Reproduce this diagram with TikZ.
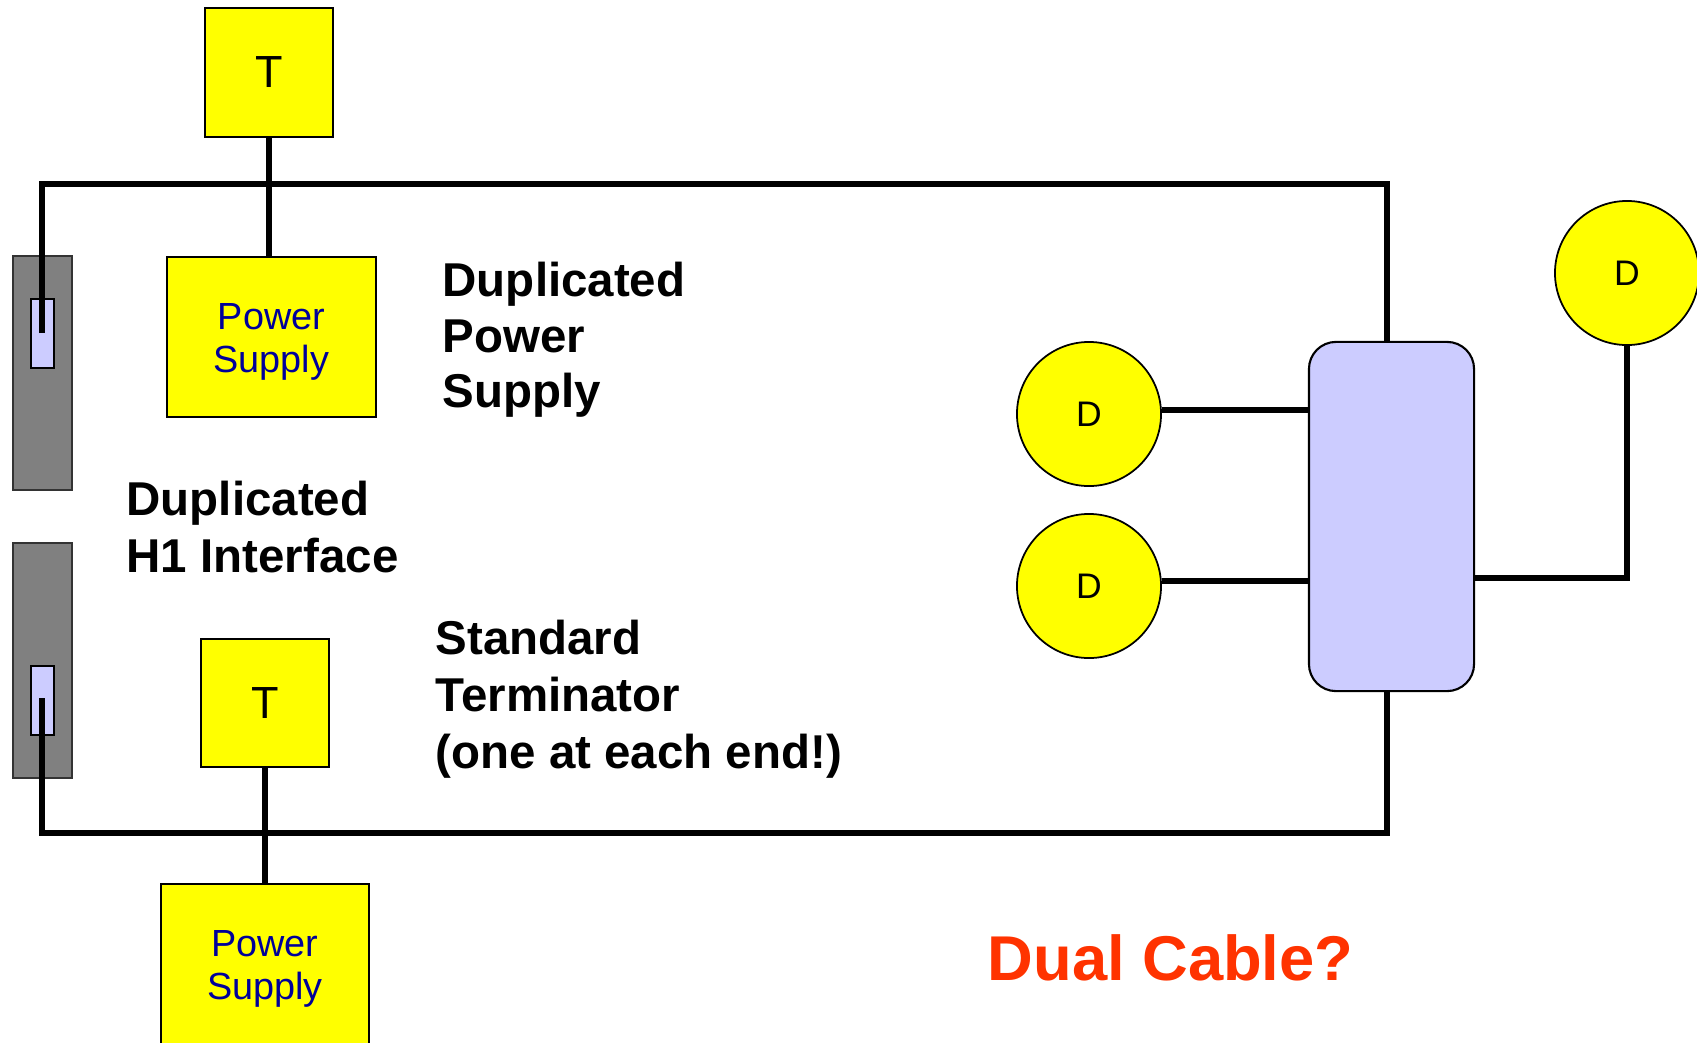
\documentclass[tikz,border=0pt]{standalone}
\usepackage{fontspec}
\setmainfont{Liberation Sans}
\definecolor{psyellow}{HTML}{FFFF00}
\definecolor{lblue}{HTML}{CCCCFF}
\definecolor{dgray}{HTML}{808080}
\definecolor{navy}{HTML}{000099}
\definecolor{redorange}{HTML}{FF3300}
\newlength{\pxu}
\setlength{\pxu}{0.1mm}
\tikzset{
  bus/.style={line width=1.7pt, line join=miter, black},
  ybox/.style={draw=black, line width=0.5pt, fill=psyellow, inner sep=0pt},
  tbox/.style={ybox, font=\fontsize{12.8pt}{15pt}\selectfont},
  psbox/.style={ybox},
  pstext/.style={inner sep=0pt, align=center, text=navy, font=\fontsize{10.75pt}{12.4pt}\selectfont},
  dcirc/.style={circle, draw=black, line width=0.5pt, fill=psyellow, minimum size=144\pxu, inner sep=0pt, font=\fontsize{10.1pt}{12pt}\selectfont},
  graybox/.style={draw=black!80, line width=0.6pt, fill=dgray, inner sep=0pt},
  portbox/.style={draw=black, line width=0.6pt, fill=lblue, inner sep=0pt},
  hubbox/.style={draw=black, line width=0.6pt, fill=lblue, rounded corners=2.7mm, inner sep=0pt},
  label/.style={anchor=north west, inner sep=0pt, align=left, font=\bfseries\fontsize{13.5pt}{15.9pt}\selectfont},
}
\begin{document}
\begin{tikzpicture}[x=0.01cm, y=-0.01cm]
\useasboundingbox (0,0) rectangle (1697,1042);
% interface cards
\node[graybox, minimum width=59\pxu, minimum height=234\pxu] (gray1) at (42.5,373) {};
\node[portbox, minimum width=23\pxu, minimum height=69\pxu] (port1) at (42.5,333.5) {};
\node[graybox, minimum width=59\pxu, minimum height=235\pxu] (gray2) at (42.5,660.5) {};
\node[portbox, minimum width=23\pxu, minimum height=69\pxu] (port2) at (42.5,700.5) {};
% hub
\node[hubbox, minimum width=165\pxu, minimum height=349\pxu] (hub) at (1391.5,516.5) {};
% terminators and power supplies
\node[tbox, minimum width=128\pxu, minimum height=129\pxu] (T1) at (269,72.5) {T};
\node[psbox, minimum width=209\pxu, minimum height=160\pxu] (PS1) at (271.5,337) {};
\node[pstext] (PS1t) at ([yshift=-0.5mm]PS1.center) {Power\\Supply};
\node[tbox, minimum width=128\pxu, minimum height=128\pxu] (T2) at (265,703) {T};
\node[psbox, minimum width=208\pxu, minimum height=160\pxu] (PS2) at (265,964) {};
\node[pstext] (PS2t) at ([yshift=-0.5mm]PS2.center) {Power\\Supply};
% devices
\node[dcirc] (D1) at (1089,414) {D};
\node[dcirc] (D2) at (1089,586) {D};
\node[dcirc] (D3) at (1627,273) {D};
% bus coordinates
\coordinate (p1end) at (42,333);
\coordinate (p2end) at (42,698);
\coordinate (tr) at (1387,184);
\coordinate (br) at (1387,833);
% trunk cables
\draw[bus] (p1end) |- (tr) -- (tr |- hub.north);
\draw[bus] (p2end) |- (br) -- (br |- hub.south);
% spurs
\draw[bus] (T1.south) -- (T1.south |- PS1.north);
\draw[bus] (T2.south) -- (T2.south |- PS2.north);
\draw[bus] ([yshift=0.4mm]D1.east) -- ([yshift=0.4mm]D1.east -| hub.west);
\draw[bus] ([yshift=0.5mm]D2.east) -- ([yshift=0.5mm]D2.east -| hub.west);
\draw[bus] ([yshift=-6.15mm]hub.east) -| (D3.south);
% labels
\node[label] (lblps) at (442,261) {Duplicated\\Power\\Supply};
\node[label, font=\bfseries\fontsize{13.5pt}{16.2pt}\selectfont] (lblh1) at (126,480) {Duplicated\\H1 Interface};
\node[label, font=\bfseries\fontsize{13.5pt}{16.2pt}\selectfont] (lblst) at (435,619) {Standard\\Terminator\\(one at each end!)};
\node[anchor=base west, inner sep=0pt, text=redorange, font=\bfseries\fontsize{18pt}{21pt}\selectfont] (dual) at (987,980) {Dual Cable?};
\end{tikzpicture}
\end{document}
